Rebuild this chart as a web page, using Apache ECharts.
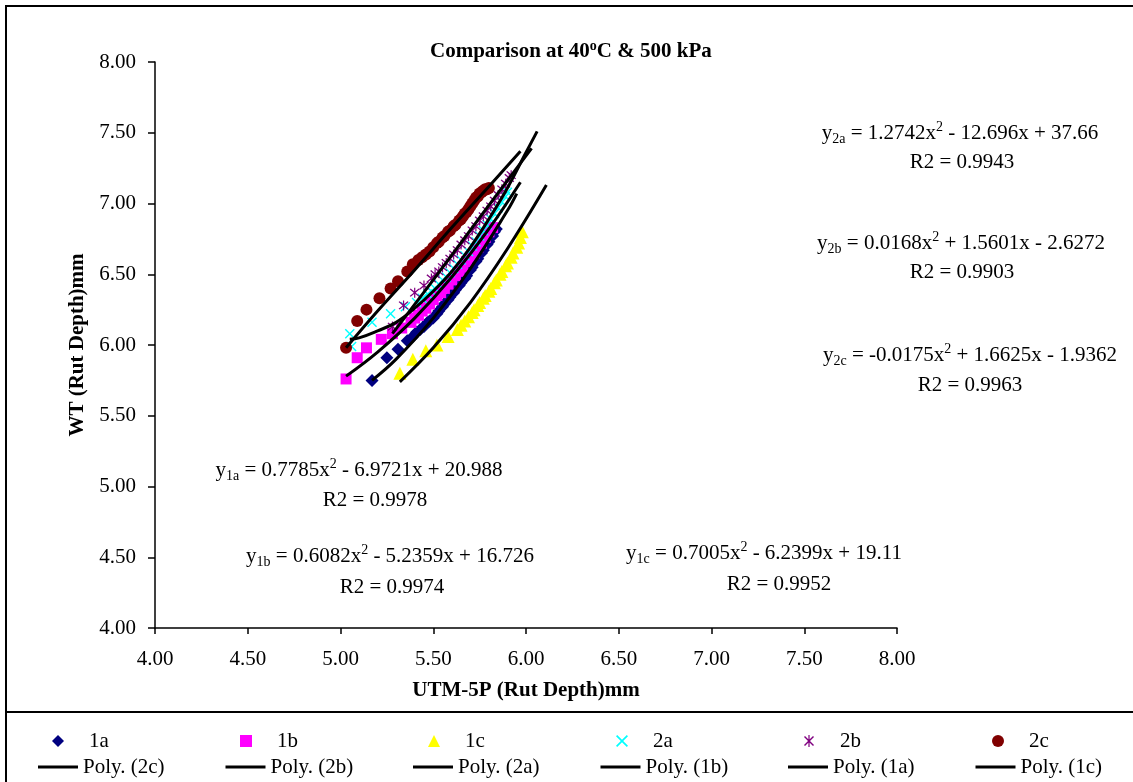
<!DOCTYPE html>
<html><head><meta charset="utf-8">
<script src="https://cdn.jsdelivr.net/npm/echarts@6/dist/echarts.min.js"></script>
<style>html,body{margin:0;padding:0;background:#fff}#c{width:1133px;height:782px}</style>
</head><body><div id="c"></div>
<script>
// ---- data ----
const axisTicks = [4.0, 4.5, 5.0, 5.5, 6.0, 6.5, 7.0, 7.5, 8.0];
const seriesNames = ['1a', '1b', '1c', '2a', '2b', '2c'];
const trendNames = ['Poly. (2c)', 'Poly. (2b)', 'Poly. (2a)', 'Poly. (1b)', 'Poly. (1a)', 'Poly. (1c)'];

const data1a = [[5.17,5.75],[5.25,5.91],[5.31,5.97],[5.36,6.03],[5.39,6.06],[5.41,6.09],[5.43,6.11],[5.45,6.13],[5.47,6.16],[5.48,6.17],[5.50,6.19],[5.52,6.22],[5.53,6.24],[5.55,6.27],[5.56,6.29],[5.58,6.32],[5.59,6.34],[5.61,6.37],[5.62,6.39],[5.64,6.42],[5.65,6.44],[5.67,6.47],[5.68,6.49],[5.70,6.53],[5.71,6.55],[5.73,6.59],[5.74,6.61],[5.76,6.65],[5.77,6.67],[5.79,6.71],[5.80,6.73],[5.82,6.77],[5.83,6.80],[5.84,6.82]];
const data1b = [[5.03,5.76],[5.09,5.91],[5.14,5.98],[5.22,6.04],[5.28,6.08],[5.33,6.12],[5.38,6.16],[5.40,6.19],[5.42,6.21],[5.44,6.24],[5.46,6.26],[5.48,6.29],[5.50,6.32],[5.52,6.35],[5.54,6.37],[5.56,6.40],[5.58,6.43],[5.60,6.46],[5.62,6.49],[5.64,6.52],[5.66,6.55],[5.68,6.59],[5.70,6.62],[5.72,6.65],[5.74,6.69],[5.76,6.72],[5.78,6.76],[5.80,6.80],[5.82,6.83]];
const data1c = [[5.32,5.80],[5.39,5.90],[5.46,5.96],[5.52,6.00],[5.58,6.06],[5.63,6.11],[5.65,6.14],[5.67,6.17],[5.69,6.20],[5.71,6.23],[5.72,6.25],[5.74,6.28],[5.75,6.30],[5.77,6.33],[5.78,6.35],[5.80,6.38],[5.81,6.40],[5.83,6.44],[5.84,6.46],[5.86,6.50],[5.87,6.52],[5.89,6.56],[5.90,6.58],[5.92,6.62],[5.93,6.65],[5.95,6.69],[5.96,6.72],[5.97,6.76],[5.98,6.80]];
const data2a = [[5.05,6.08],[5.06,5.99],[5.17,6.16],[5.27,6.22],[5.35,6.27],[5.41,6.30],[5.44,6.33],[5.47,6.36],[5.49,6.38],[5.51,6.40],[5.53,6.43],[5.55,6.46],[5.57,6.48],[5.59,6.51],[5.61,6.54],[5.63,6.57],[5.65,6.60],[5.67,6.63],[5.69,6.66],[5.71,6.70],[5.73,6.73],[5.75,6.77],[5.77,6.81],[5.79,6.85],[5.81,6.89],[5.83,6.93],[5.85,6.97],[5.87,7.01],[5.89,7.05],[5.90,7.08]];
const data2b = [[5.28,6.13],[5.34,6.28],[5.40,6.37],[5.45,6.42],[5.49,6.47],[5.51,6.50],[5.53,6.52],[5.55,6.55],[5.57,6.58],[5.59,6.61],[5.61,6.64],[5.63,6.67],[5.65,6.71],[5.67,6.74],[5.69,6.77],[5.71,6.81],[5.73,6.84],[5.75,6.88],[5.77,6.91],[5.79,6.95],[5.81,6.98],[5.83,7.02],[5.85,7.06],[5.87,7.10],[5.89,7.14],[5.91,7.18],[5.92,7.20]];
const data2c = [[5.03,5.98],[5.09,6.17],[5.14,6.25],[5.21,6.33],[5.27,6.40],[5.31,6.45],[5.36,6.52],[5.39,6.57],[5.42,6.60],[5.44,6.62],[5.46,6.64],[5.48,6.66],[5.50,6.69],[5.52,6.72],[5.53,6.73],[5.55,6.76],[5.56,6.77],[5.58,6.80],[5.59,6.81],[5.61,6.84],[5.62,6.85],[5.64,6.88],[5.65,6.89],[5.66,6.91],[5.67,6.93],[5.68,6.94],[5.69,6.96],[5.70,6.98],[5.71,7.00],[5.72,7.02],[5.73,7.04],[5.74,7.05],[5.75,7.07],[5.76,7.08],[5.77,7.09],[5.78,7.10],[5.79,7.10],[5.80,7.11]];

// trend line points
const trend2c = [[5.03,5.98],[5.20,6.24],[5.40,6.53],[5.60,6.83],[5.80,7.12],[5.97,7.37]];
const trend2b = [[5.28,6.08],[5.50,6.46],[5.75,6.90],[6.03,7.39]];
const trend2a = [[5.05,6.04],[5.10,6.05],[5.20,6.10],[5.30,6.16],[5.40,6.26],[5.50,6.38],[5.60,6.52],[5.70,6.69],[5.80,6.89],[5.90,7.11],[6.00,7.36],[6.06,7.51]];
const trend1b = [[5.03,5.78],[5.20,5.95],[5.40,6.19],[5.60,6.48],[5.80,6.82],[5.97,7.15]];
const trend1a = [[5.17,5.75],[5.30,5.90],[5.50,6.19],[5.70,6.54],[5.90,6.95],[5.95,7.07]];
const trend1c = [[5.32,5.74],[5.50,5.98],[5.70,6.30],[5.90,6.68],[6.11,7.13]];

// ---- chart ----
const FONT = '"Liberation Serif", "Times New Roman", serif';
const FS = 21;
const chart = echarts.init(document.getElementById('c'), null, {renderer: 'canvas'});

const xPath = 'path://M1,0 L5,4 L9,0 L10,1 L6,5 L10,9 L9,10 L5,6 L1,10 L0,9 L4,5 L0,1 Z';
const starPath = 'path://M1,0 L5,4 L9,0 L10,1 L6,5 L10,9 L9,10 L5,6 L1,10 L0,9 L4,5 L0,1 Z M4.4,-1 L5.6,-1 L5.6,11 L4.4,11 Z';
const colors = {'1a': '#000080', '1b': '#FF00FF', '1c': '#FFFF00', '2a': '#00FFFF', '2b': '#800080', '2c': '#800000'};
const icons = {'1a': 'diamond', '1b': 'rect', '1c': 'triangle', '2a': xPath, '2b': starPath, '2c': 'circle'};
const iconSize = {'1a': 13, '1b': 11, '1c': 13, '2a': 10, '2b': 10, '2c': 12};

function scatter(name, data) {
  return {name, type: 'scatter', data, symbol: icons[name], symbolSize: iconSize[name],
    itemStyle: {color: colors[name], opacity: 1}, z: 2, animation: false};
}
function trend(name, data) {
  return {name, type: 'line', data, smooth: 0.4, symbol: 'none', showSymbol: false,
    lineStyle: {color: '#000', width: 3}, itemStyle: {color: '#000'}, z: 5, animation: false};
}

const eqRich = {
  n: {fontFamily: FONT, fontSize: FS, color: '#000', lineHeight: 26, verticalAlign: 'middle'},
  sub: {fontFamily: FONT, fontSize: 14, color: '#000', lineHeight: 26, verticalAlign: 'bottom'},
  sup: {fontFamily: FONT, fontSize: 14, color: '#000', lineHeight: 26, verticalAlign: 'top'}
};
function eq(sub, a, b, cx, cy) {
  return {type: 'text', x: cx, y: cy, z: 10,
    style: {text: '{n|y}{sub|' + sub + '}{n| = ' + a + 'x}{sup|2}{n|' + b + '}', rich: eqRich,
      fill: '#000', align: 'center', verticalAlign: 'middle'}};
}
function r2(t, cx, cy) {
  return {type: 'text', x: cx, y: cy, z: 10,
    style: {text: 'R2 = ' + t, font: FS + 'px ' + FONT, fill: '#000', align: 'center', verticalAlign: 'middle'}};
}

const legendBase = {orient: 'horizontal', selectedMode: false, padding: 0,
  textStyle: {fontFamily: FONT, fontSize: FS, color: '#000', lineHeight: 24}};
const legendCenters = [58, 246, 434, 622, 810, 998];
const legends = [];
seriesNames.forEach((n, i) => {
  legends.push(Object.assign({}, legendBase, {
    data: [{name: n, icon: icons[n]}], left: legendCenters[i] - 6, top: 729,
    itemWidth: 12, itemHeight: 12,
    textStyle: Object.assign({}, legendBase.textStyle, {padding: [0, 0, 0, 20]})
  }));
});
trendNames.forEach((n, i) => {
  legends.push(Object.assign({}, legendBase, {
    data: [{name: n, icon: 'rect'}], left: 38 + 187.5 * i, top: 755,
    itemWidth: 40, itemHeight: 3, itemGap: 0
  }));
});

const option = {
  backgroundColor: '#fff',
  animation: false,
  title: {
    text: '{a|Comparison at 40}{s|o}{a|C & 500 kPa}',
    left: 430, top: 39, padding: 0,
    textStyle: {rich: {
      a: {fontFamily: FONT, fontSize: FS, fontWeight: 'bold', color: '#000', lineHeight: 26, verticalAlign: 'middle'},
      s: {fontFamily: FONT, fontSize: 14, fontWeight: 'bold', color: '#000', lineHeight: 26, verticalAlign: 'top'}
    }}
  },
  grid: {left: 155, right: 236, top: 62, bottom: 154, containLabel: false},
  xAxis: {
    type: 'value', min: 4, max: 8, interval: 0.5,
    name: 'UTM-5P (Rut Depth)mm', nameLocation: 'middle', nameGap: 52,
    nameTextStyle: {fontFamily: FONT, fontSize: FS, fontWeight: 'bold', color: '#000'},
    axisLine: {show: true, lineStyle: {color: '#000', width: 1.5}},
    axisTick: {show: true, inside: false, length: 6, lineStyle: {color: '#000', width: 1.5}},
    axisLabel: {fontFamily: FONT, fontSize: FS, color: '#000', margin: 21, formatter: v => v.toFixed(2)},
    splitLine: {show: false}
  },
  yAxis: {
    type: 'value', min: 4, max: 8, interval: 0.5,
    name: 'WT (Rut Depth)mm', nameLocation: 'middle', nameGap: 62, nameRotate: 90,
    nameTextStyle: {fontFamily: FONT, fontSize: FS, fontWeight: 'bold', color: '#000'},
    axisLine: {show: true, lineStyle: {color: '#000', width: 1.5}},
    axisTick: {show: true, inside: false, length: 7, lineStyle: {color: '#000', width: 1.5}},
    axisLabel: {fontFamily: FONT, fontSize: FS, color: '#000', margin: 19, formatter: v => v.toFixed(2)},
    splitLine: {show: false}
  },
  legend: legends,
  series: [
    scatter('1a', data1a),
    scatter('1b', data1b),
    scatter('1c', data1c),
    scatter('2a', data2a),
    scatter('2b', data2b),
    scatter('2c', data2c),
    trend('Poly. (2c)', trend2c),
    trend('Poly. (2b)', trend2b),
    trend('Poly. (2a)', trend2a),
    trend('Poly. (1b)', trend1b),
    trend('Poly. (1a)', trend1a),
    trend('Poly. (1c)', trend1c)
  ],
  graphic: [
    {type: 'rect', shape: {x: 6, y: 6, width: 1300, height: 1000}, style: {fill: 'none', stroke: '#000', lineWidth: 2}, z: 0, silent: true},
    {type: 'line', shape: {x1: 6, y1: 712, x2: 1133, y2: 712}, style: {stroke: '#000', lineWidth: 2}, z: 0, silent: true},
    eq('2a', '1.2742', ' - 12.696x + 37.66', 960, 133),
    r2('0.9943', 962, 162),
    eq('2b', '0.0168', ' + 1.5601x - 2.6272', 961, 243),
    r2('0.9903', 962, 272),
    eq('2c', '-0.0175', ' + 1.6625x - 1.9362', 970, 355),
    r2('0.9963', 970, 385),
    eq('1a', '0.7785', ' - 6.9721x + 20.988', 359, 470),
    r2('0.9978', 375, 500),
    eq('1b', '0.6082', ' - 5.2359x + 16.726', 390, 556),
    r2('0.9974', 392, 587),
    eq('1c', '0.7005', ' - 6.2399x + 19.11', 764, 553),
    r2('0.9952', 779, 584)
  ]
};
chart.setOption(option);
</script></body></html>
